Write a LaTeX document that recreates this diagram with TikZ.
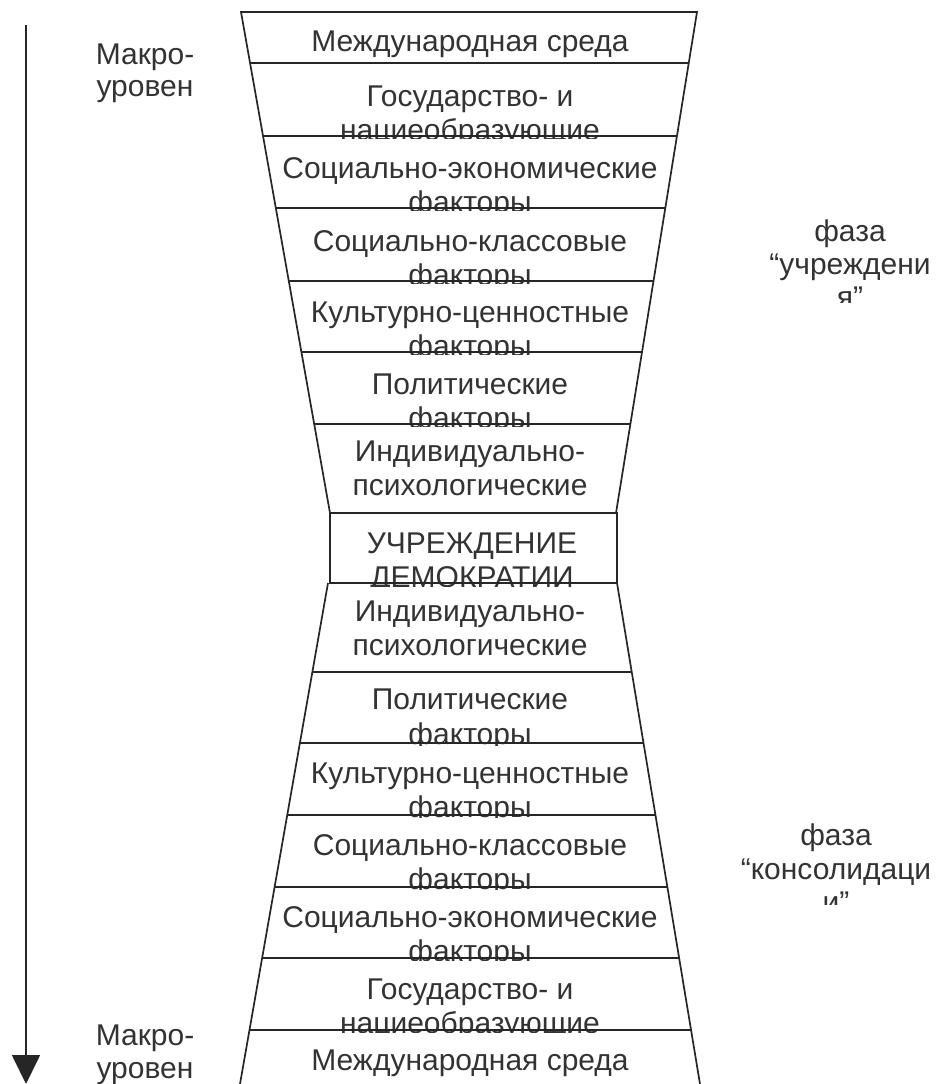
\documentclass[tikz,border=0pt]{standalone}
\usepackage{fontspec}
\setmainfont{Liberation Sans}
\usetikzlibrary{calc,arrows.meta}
\tikzset{
  ln/.style={line width=1.7pt, black!85},
  txt/.style={inner sep=0pt, anchor=base, font=\fontsize{30}{33}\selectfont, text=black!80},
  axis/.style={line width=1.7pt, black!85, -{Triangle[length=29pt,width=28pt]}}
}
% #1 name, #2 clip top, #3 clip bottom, #4 x, #5 baseline, #6 text
\newcommand\cliptext[6]{\begin{scope}\clip (0,#2) rectangle (936,#3);
  \node[txt] (#1) at (#4,#5) {#6};\end{scope}}
\newcommand\septop[1]{\draw[ln] ($(TL0)!{(#1-12)/501}!(TL1)$) -- ($(TR0)!{(#1-12)/501}!(TR1)$);}
\newcommand\sepbot[1]{\draw[ln] ($(BL0)!{(#1-583)/501}!(BL1)$) -- ($(BR0)!{(#1-583)/501}!(BR1)$);}
\begin{document}
\begin{tikzpicture}[x=1pt,y=-1pt]
\fill[white] (0,0) rectangle (936,1084);
\useasboundingbox (0,0) rectangle (936,1084);
% funnel corners
\coordinate (TL0) at (241,12);
\coordinate (TL1) at (330,513);
\coordinate (TR0) at (697,12);
\coordinate (TR1) at (616,513);
\coordinate (BL0) at (328,583);
\coordinate (BL1) at (240,1084);
\coordinate (BR0) at (617,583);
\coordinate (BR1) at (700,1084);
% texts, upper funnel
\node[txt] (c1) at (470,51) {Международная среда};
\cliptext{c2a}{63}{138}{470}{106}{Государство- и}
\cliptext{c2b}{63}{138}{470}{140}{нациеобразующие}
\cliptext{c3a}{136}{210}{470}{178}{Социально-экономические}
\cliptext{c3b}{136}{210}{470}{212}{факторы}
\cliptext{c4a}{208}{283}{470}{251}{Социально-классовые}
\cliptext{c4b}{208}{283}{470}{285}{факторы}
\cliptext{c5a}{281}{354}{470}{322}{Культурно-ценностные}
\cliptext{c5b}{281}{354}{470}{356}{факторы}
\cliptext{c6a}{352}{426}{470}{394}{Политические}
\cliptext{c6b}{352}{426}{470}{428}{факторы}
\cliptext{c7a}{424}{513}{470}{461}{Индивидуально-}
\cliptext{c7b}{424}{513}{470}{495}{психологические}
% box
\cliptext{boxa}{513}{586}{472}{553}{УЧРЕЖДЕНИЕ}
\cliptext{boxb}{513}{586}{472}{587}{ДЕМОКРАТИИ}
% texts, lower funnel
\cliptext{d1a}{583}{672}{470}{621}{Индивидуально-}
\cliptext{d1b}{583}{672}{470}{655}{психологические}
\cliptext{d2a}{672}{745}{470}{709}{Политические}
\cliptext{d2b}{672}{745}{470}{744}{факторы}
\cliptext{d3a}{743}{817}{470}{783}{Культурно-ценностные}
\cliptext{d3b}{743}{817}{470}{817}{факторы}
\cliptext{d4a}{815}{889}{470}{855}{Социально-классовые}
\cliptext{d4b}{815}{889}{470}{889}{факторы}
\cliptext{d5a}{887}{960}{470}{927}{Социально-экономические}
\cliptext{d5b}{887}{960}{470}{961}{факторы}
\cliptext{d6a}{958}{1032}{470}{999}{Государство- и}
\cliptext{d6b}{958}{1032}{470}{1033}{нациеобразующие}
\node[txt] (d7) at (470,1070) {Международная среда};
% funnel outline
\draw[ln] (TL1) -- (TL0) -- (TR0) -- (TR1);
\septop{63}\septop{136}\septop{208}\septop{281}\septop{352}\septop{424}
\draw[ln] (TL1) rectangle (BR0);
\draw[ln] (BL0) -- (BL1);
\draw[ln] (BR0) -- (BR1);
\sepbot{672}\sepbot{743}\sepbot{815}\sepbot{887}\sepbot{958}\sepbot{1030}
% left labels and axis
\node[txt] (lt1) at (145,64) {Макро-};
\node[txt] (lt2) at (145,96) {уровен};
\node[txt] (lb1) at (145,1045) {Макро-};
\node[txt] (lb2) at (145,1078) {уровен};
\coordinate (axTop) at (26,25);
\coordinate (axBot) at (26,1084);
\draw[axis] (axTop) -- (axBot);
% right labels
\node[txt] (p1a) at (850,241) {фаза};
\node[txt] (p1b) at (850,274) {“учреждени};
\cliptext{p1c}{280}{302}{850}{307}{я”}
\node[txt] (p2a) at (836,845) {фаза};
\node[txt] (p2b) at (836,879) {“консолидаци};
\cliptext{p2c}{885}{904}{836}{912}{и”}
\end{tikzpicture}
\end{document}
